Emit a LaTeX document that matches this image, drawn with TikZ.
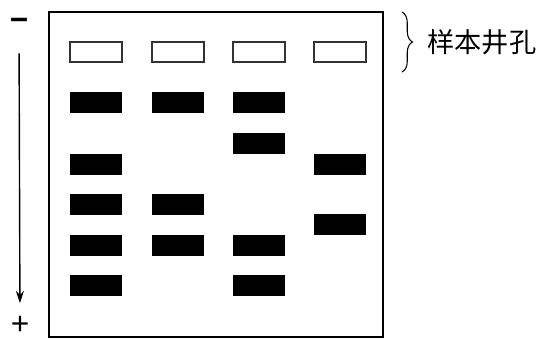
\documentclass[tikz,border=0pt]{standalone}
\usepackage{fontspec}
\setmainfont{Liberation Sans}
\newfontfamily\cjkfont{Noto Sans CJK SC}
\usetikzlibrary{arrows.meta,decorations.pathreplacing}
\definecolor{bordeG}{HTML}{333333}

\tikzset{
  well/.style={draw=bordeG,line width=0.6pt,fill=white},
  band/.style={fill=black},
  signo/.style={inner sep=0pt,font=\fontsize{18}{20}\selectfont},
}

\begin{document}
\begin{tikzpicture}[x=0.02cm,y=-0.02cm]
  \useasboundingbox (0,0) rectangle (548,339);
  % gel
  \draw[line width=1.1pt] (49,12) rectangle (383,337);
  % wells
  \foreach \x in {70,152,233,314}
    \draw[well] (\x,42) rectangle ++(52,20);
  % bands: column/top
  \foreach \x/\y in {70/92,70/154,70/194,70/235,70/275,
                     152/92,152/194,152/235,
                     233/92,233/133,233/235,233/275,
                     314/154,314/214}
    \fill[band] (\x,\y) rectangle ++(52,21);
  % poles and direction
  \node[signo,font=\bfseries\fontsize{18}{20}\selectfont] (neg) at (19,24) {−};
  \node[signo] (pos) at (20,325) {+};
  \draw[line width=0.8pt,-{Stealth[length=7pt,width=4.5pt]},shorten <=13pt,shorten >=7pt] (neg) -- (pos);
  % label
  \draw[line width=0.6pt,decorate,decoration={brace,amplitude=6pt}] (402,12) -- (402,72);
  \node[anchor=west,inner sep=0pt,font=\cjkfont\fontsize{15.5}{18}\selectfont] (pozos) at (427,42) {样本井孔};
\end{tikzpicture}
\end{document}
